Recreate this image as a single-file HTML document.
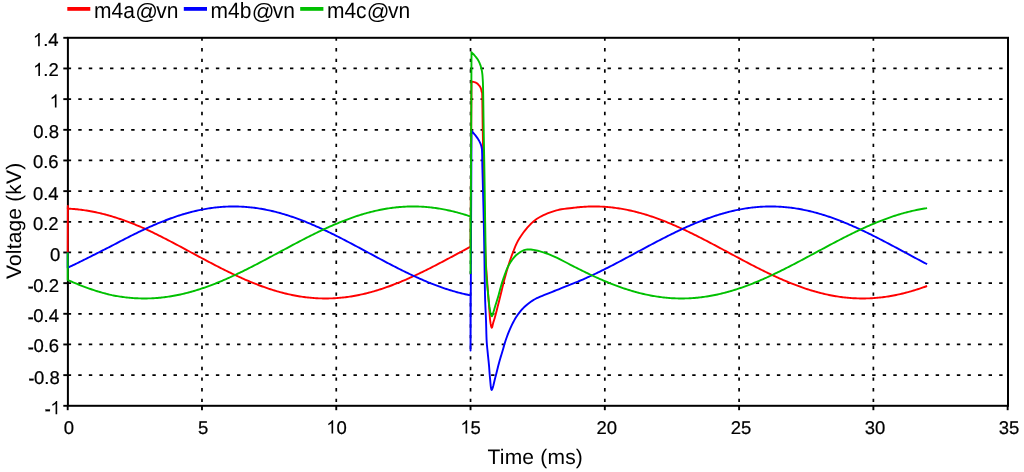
<!DOCTYPE html>
<html><head><meta charset="utf-8"><style>
html,body{margin:0;padding:0;background:#fff;}
svg{display:block;}
text{font-family:"Liberation Sans",sans-serif;fill:#000;text-rendering:geometricPrecision;}
svg{will-change:transform;}
.gv{stroke:#000;stroke-width:1.7;stroke-dasharray:3.4 7.227;}
.gh{stroke:#000;stroke-width:1.7;stroke-dasharray:3.4 7.185;}
.c{fill:none;stroke-width:1.9;stroke-linejoin:round;stroke-linecap:butt;}
</style></head><body>
<svg width="1024" height="472" viewBox="0 0 1024 472">
<rect x="0" y="0" width="1024" height="472" fill="#fff"/>
<g><line x1="201.98" y1="37.4" x2="201.98" y2="405.8" class="gv"/><line x1="336.26" y1="37.4" x2="336.26" y2="405.8" class="gv"/><line x1="470.54" y1="37.4" x2="470.54" y2="405.8" class="gv"/><line x1="604.82" y1="37.4" x2="604.82" y2="405.8" class="gv"/><line x1="739.10" y1="37.4" x2="739.10" y2="405.8" class="gv"/><line x1="873.38" y1="37.4" x2="873.38" y2="405.8" class="gv"/><line x1="67.7" y1="375.13" x2="1007.8" y2="375.13" class="gh"/><line x1="67.7" y1="344.47" x2="1007.8" y2="344.47" class="gh"/><line x1="67.7" y1="313.80" x2="1007.8" y2="313.80" class="gh"/><line x1="67.7" y1="283.14" x2="1007.8" y2="283.14" class="gh"/><line x1="67.7" y1="252.47" x2="1007.8" y2="252.47" class="gh"/><line x1="67.7" y1="221.80" x2="1007.8" y2="221.80" class="gh"/><line x1="67.7" y1="191.14" x2="1007.8" y2="191.14" class="gh"/><line x1="67.7" y1="160.47" x2="1007.8" y2="160.47" class="gh"/><line x1="67.7" y1="129.81" x2="1007.8" y2="129.81" class="gh"/><line x1="67.7" y1="99.14" x2="1007.8" y2="99.14" class="gh"/><line x1="67.7" y1="68.47" x2="1007.8" y2="68.47" class="gh"/></g>
<g stroke="#000" stroke-width="1.9"><line x1="67.70" y1="405.8" x2="67.70" y2="410.2" /><line x1="201.98" y1="405.8" x2="201.98" y2="410.2" /><line x1="336.26" y1="405.8" x2="336.26" y2="410.2" /><line x1="470.54" y1="405.8" x2="470.54" y2="410.2" /><line x1="604.82" y1="405.8" x2="604.82" y2="410.2" /><line x1="739.10" y1="405.8" x2="739.10" y2="410.2" /><line x1="873.38" y1="405.8" x2="873.38" y2="410.2" /><line x1="1007.66" y1="405.8" x2="1007.66" y2="410.2" /><line x1="63.3" y1="405.80" x2="67.7" y2="405.80" /><line x1="63.3" y1="375.13" x2="67.7" y2="375.13" /><line x1="63.3" y1="344.47" x2="67.7" y2="344.47" /><line x1="63.3" y1="313.80" x2="67.7" y2="313.80" /><line x1="63.3" y1="283.14" x2="67.7" y2="283.14" /><line x1="63.3" y1="252.47" x2="67.7" y2="252.47" /><line x1="63.3" y1="221.80" x2="67.7" y2="221.80" /><line x1="63.3" y1="191.14" x2="67.7" y2="191.14" /><line x1="63.3" y1="160.47" x2="67.7" y2="160.47" /><line x1="63.3" y1="129.81" x2="67.7" y2="129.81" /><line x1="63.3" y1="99.14" x2="67.7" y2="99.14" /><line x1="63.3" y1="68.47" x2="67.7" y2="68.47" /><line x1="63.3" y1="37.81" x2="67.7" y2="37.81" /></g>
<g font-size="18.5" fill="#000" stroke="#000" stroke-width="0.22"><rect x="45.55" y="409.45" width="4.40" height="1.75"/><path transform="translate(50.31 414.20) scale(0.00903 -0.00903)" d="M763 0L583 0L583 1147Q518 1085 412.5 1023Q307 961 223 930L223 1104Q374 1175 487 1276Q600 1377 647 1472L763 1472Z"/><rect x="29.22" y="378.78" width="4.40" height="1.75"/><text x="33.98" y="383.53">0</text><text x="44.27" y="383.53">.</text><text x="49.41" y="383.53">8</text><rect x="28.62" y="347.62" width="4.40" height="1.75"/><text x="33.38" y="352.37">0</text><text x="43.67" y="352.37">.</text><text x="48.81" y="352.37">6</text><rect x="28.52" y="317.45" width="4.40" height="1.75"/><text x="33.28" y="322.20">0</text><text x="43.57" y="322.20">.</text><text x="48.71" y="322.20">4</text><rect x="28.52" y="286.79" width="4.40" height="1.75"/><text x="33.28" y="291.54">0</text><text x="43.57" y="291.54">.</text><text x="48.71" y="291.54">2</text><text x="50.01" y="260.87">0</text><text x="32.88" y="230.20">0</text><text x="43.17" y="230.20">.</text><text x="48.31" y="230.20">2</text><text x="32.88" y="199.54">0</text><text x="43.17" y="199.54">.</text><text x="48.31" y="199.54">4</text><text x="32.88" y="167.67">0</text><text x="43.17" y="167.67">.</text><text x="48.31" y="167.67">6</text><text x="33.28" y="138.21">0</text><text x="43.57" y="138.21">.</text><text x="48.71" y="138.21">8</text><path transform="translate(49.61 107.54) scale(0.00903 -0.00903)" d="M763 0L583 0L583 1147Q518 1085 412.5 1023Q307 961 223 930L223 1104Q374 1175 487 1276Q600 1377 647 1472L763 1472Z"/><path transform="translate(33.08 76.07) scale(0.00903 -0.00903)" d="M763 0L583 0L583 1147Q518 1085 412.5 1023Q307 961 223 930L223 1104Q374 1175 487 1276Q600 1377 647 1472L763 1472Z"/><text x="43.37" y="76.07">.</text><text x="48.51" y="76.07">2</text><path transform="translate(32.88 46.21) scale(0.00903 -0.00903)" d="M763 0L583 0L583 1147Q518 1085 412.5 1023Q307 961 223 930L223 1104Q374 1175 487 1276Q600 1377 647 1472L763 1472Z"/><text x="43.17" y="46.21">.</text><text x="48.31" y="46.21">4</text><text x="63.76" y="433.60">0</text><text x="197.92" y="433.60">5</text><path transform="translate(326.27 433.60) scale(0.00903 -0.00903)" d="M763 0L583 0L583 1147Q518 1085 412.5 1023Q307 961 223 930L223 1104Q374 1175 487 1276Q600 1377 647 1472L763 1472Z"/><text x="336.55" y="433.60">0</text><path transform="translate(460.31 433.60) scale(0.00903 -0.00903)" d="M763 0L583 0L583 1147Q518 1085 412.5 1023Q307 961 223 930L223 1104Q374 1175 487 1276Q600 1377 647 1472L763 1472Z"/><text x="470.59" y="433.60">5</text><text x="596.50" y="433.60">2</text><text x="606.79" y="433.60">0</text><text x="730.69" y="433.60">2</text><text x="740.98" y="433.60">5</text><text x="864.63" y="433.60">3</text><text x="874.92" y="433.60">0</text><text x="998.77" y="433.60">3</text><text x="1009.06" y="433.60">5</text></g>
<rect x="67.9" y="37.8" width="940.1" height="368" fill="none" stroke="#000" stroke-width="2"/>
<path class="c" stroke="#ff0000" d="M67.70 252.47 L67.85 205.90 L67.70 208.63 L69.04 208.69 L70.39 208.77 L71.73 208.85 L73.07 208.95 L74.41 209.06 L75.76 209.18 L77.10 209.31 L78.44 209.45 L79.79 209.61 L81.13 209.77 L82.47 209.95 L83.81 210.13 L85.16 210.33 L86.50 210.54 L87.84 210.75 L89.18 210.98 L90.53 211.22 L91.87 211.47 L93.21 211.73 L94.56 212.00 L95.90 212.28 L97.24 212.57 L98.58 212.87 L99.93 213.19 L101.27 213.51 L102.61 213.84 L103.96 214.18 L105.30 214.53 L106.64 214.89 L107.98 215.26 L109.33 215.64 L110.67 216.02 L112.01 216.42 L113.36 216.83 L114.70 217.24 L116.04 217.67 L117.38 218.10 L118.73 218.54 L120.07 218.99 L121.41 219.45 L122.75 219.92 L124.10 220.39 L125.44 220.88 L126.78 221.37 L128.13 221.86 L129.47 222.37 L130.81 222.88 L132.15 223.41 L133.50 223.93 L134.84 224.47 L136.18 225.01 L137.53 225.56 L138.87 226.12 L140.21 226.68 L141.55 227.25 L142.90 227.82 L144.24 228.44 L145.58 229.05 L146.93 229.68 L148.27 230.31 L149.61 230.95 L150.95 231.59 L152.30 232.23 L153.64 232.88 L154.98 233.54 L156.32 234.20 L157.67 234.87 L159.01 235.54 L160.35 236.21 L161.70 236.89 L163.04 237.57 L164.38 238.26 L165.72 238.94 L167.07 239.64 L168.41 240.33 L169.75 241.03 L171.10 241.73 L172.44 242.44 L173.78 243.14 L175.12 243.85 L176.47 244.56 L177.81 245.27 L179.15 245.99 L180.50 246.70 L181.84 247.42 L183.18 248.14 L184.52 248.86 L185.87 249.58 L187.21 250.30 L188.55 251.03 L189.89 251.75 L191.24 252.47 L192.58 253.19 L193.92 253.91 L195.27 254.64 L196.61 255.36 L197.95 256.08 L199.29 256.80 L200.64 257.52 L201.98 258.24 L203.32 258.95 L204.67 259.67 L206.01 260.38 L207.35 261.09 L208.69 261.80 L210.04 262.50 L211.38 263.21 L212.72 263.91 L214.07 264.61 L215.41 265.30 L216.75 266.00 L218.09 266.68 L219.44 267.37 L220.78 268.05 L222.12 268.73 L223.46 269.40 L224.81 270.07 L226.15 270.74 L227.49 271.40 L228.84 272.06 L230.18 272.71 L231.52 273.35 L232.86 273.99 L234.21 274.63 L235.55 275.26 L236.89 275.89 L238.24 276.50 L239.58 277.12 L240.92 277.72 L242.26 278.33 L243.61 278.92 L244.95 279.51 L246.29 280.09 L247.64 280.66 L248.98 281.23 L250.32 281.79 L251.66 282.34 L253.01 282.89 L254.35 283.43 L255.69 283.96 L257.03 284.48 L258.38 285.00 L259.72 285.50 L261.06 286.00 L262.41 286.49 L263.75 286.97 L265.09 287.45 L266.43 287.91 L267.78 288.37 L269.12 288.82 L270.46 289.25 L271.81 289.68 L273.15 290.10 L274.49 290.51 L275.83 290.92 L277.18 291.31 L278.52 291.69 L279.86 292.06 L281.21 292.43 L282.55 292.78 L283.89 293.12 L285.23 293.46 L286.58 293.78 L287.92 294.09 L289.26 294.39 L290.60 294.69 L291.95 294.97 L293.29 295.24 L294.63 295.50 L295.98 295.75 L297.32 295.99 L298.66 296.22 L300.00 296.44 L301.35 296.64 L302.69 296.84 L304.03 297.02 L305.38 297.20 L306.72 297.36 L308.06 297.51 L309.40 297.65 L310.75 297.78 L312.09 297.90 L313.43 298.01 L314.78 298.11 L316.12 298.19 L317.46 298.26 L318.80 298.33 L320.15 298.38 L321.49 298.42 L322.83 298.45 L324.17 298.46 L325.52 298.47 L326.86 298.46 L328.20 298.45 L329.55 298.42 L330.89 298.38 L332.23 298.33 L333.57 298.26 L334.92 298.19 L336.26 298.11 L337.60 298.01 L338.95 297.90 L340.29 297.78 L341.63 297.65 L342.97 297.51 L344.32 297.36 L345.66 297.20 L347.00 297.02 L348.35 296.84 L349.69 296.64 L351.03 296.44 L352.37 296.22 L353.72 295.99 L355.06 295.75 L356.40 295.50 L357.74 295.24 L359.09 294.97 L360.43 294.69 L361.77 294.39 L363.12 294.09 L364.46 293.78 L365.80 293.46 L367.14 293.12 L368.49 292.78 L369.83 292.43 L371.17 292.06 L372.52 291.69 L373.86 291.31 L375.20 290.92 L376.54 290.51 L377.89 290.10 L379.23 289.68 L380.57 289.25 L381.92 288.82 L383.26 288.37 L384.60 287.91 L385.94 287.45 L387.29 286.97 L388.63 286.49 L389.97 286.00 L391.31 285.50 L392.66 285.00 L394.00 284.48 L395.34 283.96 L396.69 283.43 L398.03 282.89 L399.37 282.34 L400.71 281.79 L402.06 281.23 L403.40 280.66 L404.74 280.09 L406.09 279.51 L407.43 278.92 L408.77 278.33 L410.11 277.72 L411.46 277.12 L412.80 276.50 L414.14 275.89 L415.49 275.26 L416.83 274.63 L418.17 273.99 L419.51 273.35 L420.86 272.71 L422.20 272.06 L423.54 271.40 L424.88 270.74 L426.23 270.07 L427.57 269.40 L428.91 268.73 L430.26 268.05 L431.60 267.37 L432.94 266.68 L434.28 266.00 L435.63 265.30 L436.97 264.61 L438.31 263.91 L439.66 263.21 L441.00 262.50 L442.34 261.80 L443.68 261.09 L445.03 260.38 L446.37 259.67 L447.71 258.95 L449.06 258.24 L450.40 257.52 L451.74 256.80 L453.08 256.08 L454.43 255.36 L455.77 254.64 L457.11 253.91 L458.45 253.19 L459.80 252.47 L461.14 251.75 L462.48 251.03 L463.83 250.30 L465.17 249.58 L466.51 248.86 L467.85 248.14 L469.20 247.42 L470.54 246.70 L470.54 246.84 L471.50 81.60 L471.98 81.69 L472.66 81.80 L473.45 81.93 L474.29 82.10 L475.10 82.32 L475.80 82.60 L476.41 82.95 L477.00 83.36 L477.55 83.81 L478.07 84.30 L478.55 84.80 L479.00 85.30 L479.41 85.80 L479.77 86.33 L480.11 86.87 L480.40 87.41 L480.67 87.96 L480.90 88.50 L481.09 89.03 L481.23 89.56 L481.33 90.09 L481.42 90.63 L481.50 91.16 L481.60 91.70 L481.71 91.97 L481.81 91.91 L481.92 91.86 L482.02 92.14 L482.11 93.08 L482.20 95.00 L482.28 98.44 L482.36 103.24 L482.44 108.71 L482.50 114.12 L482.56 118.79 L482.60 122.00 L482.71 128.17 L482.87 136.59 L483.05 146.62 L483.26 157.63 L483.48 168.97 L483.70 180.00 L483.94 191.43 L484.19 203.91 L484.46 216.73 L484.73 229.16 L485.02 240.49 L485.30 250.00 L485.59 257.39 L485.88 263.19 L486.18 267.89 L486.48 271.97 L486.79 275.95 L487.10 280.30 L487.43 285.04 L487.79 289.79 L488.14 294.41 L488.49 298.81 L488.82 302.88 L489.10 306.50 L489.33 309.63 L489.52 312.36 L489.68 314.74 L489.84 316.87 L490.00 318.80 L490.20 320.60 L490.43 322.33 L490.67 323.94 L490.92 325.36 L491.18 326.50 L491.44 327.31 L491.70 327.70 L491.96 327.55 L492.22 326.90 L492.48 325.91 L492.75 324.74 L493.02 323.55 L493.30 322.50 L493.57 321.63 L493.84 320.81 L494.11 319.98 L494.40 319.05 L494.72 317.95 L495.10 316.60 L495.54 314.94 L496.04 313.03 L496.58 310.94 L497.13 308.76 L497.67 306.59 L498.20 304.50 L498.71 302.48 L499.21 300.47 L499.71 298.45 L500.20 296.43 L500.70 294.42 L501.20 292.40 L501.69 290.41 L502.16 288.44 L502.64 286.47 L503.13 284.48 L503.64 282.43 L504.20 280.30 L504.81 278.05 L505.45 275.69 L506.12 273.28 L506.81 270.86 L507.50 268.49 L508.20 266.20 L508.89 264.02 L509.57 261.90 L510.26 259.82 L510.97 257.76 L511.71 255.69 L512.50 253.60 L513.32 251.47 L514.15 249.31 L515.01 247.14 L515.93 244.99 L516.92 242.87 L518.00 240.80 L519.19 238.75 L520.48 236.71 L521.84 234.71 L523.24 232.75 L524.67 230.88 L526.10 229.10 L527.52 227.42 L528.95 225.81 L530.41 224.29 L531.89 222.84 L533.42 221.48 L535.00 220.20 L536.61 219.03 L538.24 217.96 L539.92 216.97 L541.66 216.05 L543.48 215.17 L545.40 214.30 L547.44 213.44 L549.59 212.60 L551.82 211.81 L554.11 211.06 L556.45 210.39 L558.80 209.80 L561.37 209.30 L564.20 208.87 L567.07 208.51 L569.76 208.21 L572.03 207.97 L573.67 207.78 L575.01 207.61 L576.35 207.46 L577.70 207.31 L579.04 207.18 L580.39 207.06 L581.73 206.95 L583.07 206.85 L584.42 206.76 L585.76 206.69 L587.11 206.62 L588.45 206.57 L589.79 206.53 L591.14 206.50 L592.48 206.48 L593.82 206.47 L595.17 206.47 L596.51 206.49 L597.86 206.52 L599.20 206.55 L600.54 206.60 L601.89 206.66 L603.23 206.73 L604.57 206.82 L605.92 206.91 L607.26 207.02 L608.61 207.13 L609.95 207.26 L611.29 207.40 L612.64 207.55 L613.98 207.71 L615.33 207.88 L616.67 208.07 L618.01 208.26 L619.36 208.47 L620.70 208.68 L622.04 208.91 L623.39 209.15 L624.73 209.40 L626.08 209.66 L627.42 209.93 L628.76 210.21 L630.11 210.50 L631.45 210.80 L632.80 211.11 L634.14 211.43 L635.48 211.76 L636.83 212.10 L638.17 212.46 L639.51 212.82 L640.86 213.19 L642.20 213.57 L643.55 213.96 L644.89 214.36 L646.23 214.77 L647.58 215.19 L648.92 215.62 L650.26 216.05 L651.61 216.50 L652.95 216.96 L654.30 217.42 L655.64 217.89 L656.98 218.37 L658.33 218.86 L659.67 219.36 L661.02 219.87 L662.36 220.38 L663.70 220.90 L665.05 221.43 L666.39 221.97 L667.73 222.52 L669.08 223.07 L670.42 223.63 L671.77 224.19 L673.11 224.77 L674.45 225.35 L675.80 225.94 L677.14 226.53 L678.49 227.13 L679.83 227.74 L681.17 228.35 L682.52 228.97 L683.86 229.59 L685.20 230.22 L686.55 230.86 L687.89 231.50 L689.24 232.15 L690.58 232.80 L691.92 233.45 L693.27 234.11 L694.61 234.78 L695.95 235.45 L697.30 236.12 L698.64 236.80 L699.99 237.48 L701.33 238.17 L702.67 238.86 L704.02 239.55 L705.36 240.24 L706.71 240.94 L708.05 241.64 L709.39 242.35 L710.74 243.06 L712.08 243.76 L713.42 244.48 L714.77 245.19 L716.11 245.90 L717.46 246.62 L718.80 247.34 L720.14 248.06 L721.49 248.78 L722.83 249.50 L724.18 250.22 L725.52 250.94 L726.86 251.67 L728.21 252.39 L729.55 253.11 L730.89 253.83 L732.24 254.56 L733.58 255.28 L734.93 256.00 L736.27 256.72 L737.61 257.44 L738.96 258.16 L740.30 258.88 L741.64 259.59 L742.99 260.30 L744.33 261.02 L745.68 261.73 L747.02 262.43 L748.36 263.14 L749.71 263.84 L751.05 264.54 L752.40 265.23 L753.74 265.93 L755.08 266.62 L756.43 267.30 L757.77 267.99 L759.11 268.67 L760.46 269.34 L761.80 270.01 L763.15 270.68 L764.49 271.34 L765.83 272.00 L767.18 272.65 L768.52 273.30 L769.86 273.94 L771.21 274.57 L772.55 275.21 L773.90 275.83 L775.24 276.45 L776.58 277.07 L777.93 277.67 L779.27 278.28 L780.62 278.87 L781.96 279.46 L783.30 280.04 L784.65 280.62 L785.99 281.19 L787.33 281.75 L788.68 282.30 L790.02 282.85 L791.37 283.39 L792.71 283.92 L794.05 284.44 L795.40 284.96 L796.74 285.47 L798.09 285.97 L799.43 286.46 L800.77 286.94 L802.12 287.41 L803.46 287.88 L804.80 288.34 L806.15 288.79 L807.49 289.23 L808.84 289.66 L810.18 290.08 L811.52 290.49 L812.87 290.89 L814.21 291.28 L815.55 291.67 L816.90 292.04 L818.24 292.40 L819.59 292.76 L820.93 293.10 L822.27 293.44 L823.62 293.76 L824.96 294.07 L826.31 294.38 L827.65 294.67 L828.99 294.95 L830.34 295.22 L831.68 295.49 L833.02 295.74 L834.37 295.98 L835.71 296.21 L837.06 296.42 L838.40 296.63 L839.74 296.83 L841.09 297.02 L842.43 297.19 L843.78 297.35 L845.12 297.51 L846.46 297.65 L847.81 297.78 L849.15 297.90 L850.49 298.01 L851.84 298.10 L853.18 298.19 L854.53 298.26 L855.87 298.32 L857.21 298.38 L858.56 298.42 L859.90 298.45 L861.24 298.46 L862.59 298.47 L863.93 298.46 L865.28 298.45 L866.62 298.42 L867.96 298.38 L869.31 298.33 L870.65 298.27 L872.00 298.19 L873.34 298.11 L874.68 298.01 L876.03 297.91 L877.37 297.79 L878.71 297.66 L880.06 297.52 L881.40 297.37 L882.75 297.20 L884.09 297.03 L885.43 296.84 L886.78 296.65 L888.12 296.44 L889.47 296.22 L890.81 295.99 L892.15 295.75 L893.50 295.50 L894.84 295.24 L896.18 294.97 L897.53 294.69 L898.87 294.40 L900.22 294.10 L901.56 293.78 L902.90 293.46 L904.25 293.13 L905.59 292.78 L906.93 292.43 L908.28 292.07 L909.62 291.69 L910.97 291.31 L912.31 290.92 L913.65 290.52 L915.00 290.11 L916.34 289.69 L917.69 289.26 L919.03 288.82 L920.37 288.37 L921.72 287.91 L923.06 287.45 L924.40 286.98 L925.75 286.49 L927.09 286.00"/>
<path class="c" stroke="#0000ff" d="M67.70 252.47 L67.70 267.75 L69.04 267.12 L70.39 266.48 L71.73 265.84 L73.07 265.20 L74.41 264.55 L75.76 263.90 L77.10 263.24 L78.44 262.58 L79.79 261.92 L81.13 261.26 L82.47 260.59 L83.81 259.93 L85.16 259.26 L86.50 258.59 L87.84 257.91 L89.18 257.24 L90.53 256.56 L91.87 255.88 L93.21 255.21 L94.56 254.53 L95.90 253.85 L97.24 253.17 L98.58 252.49 L99.93 251.80 L101.27 251.12 L102.61 250.44 L103.96 249.76 L105.30 249.08 L106.64 248.41 L107.98 247.73 L109.33 247.05 L110.67 246.38 L112.01 245.70 L113.36 244.99 L114.70 244.28 L116.04 243.57 L117.38 242.86 L118.73 242.15 L120.07 241.45 L121.41 240.75 L122.75 240.05 L124.10 239.36 L125.44 238.67 L126.78 237.98 L128.13 237.30 L129.47 236.62 L130.81 235.94 L132.15 235.27 L133.50 234.60 L134.84 233.94 L136.18 233.28 L137.53 232.62 L138.87 231.97 L140.21 231.33 L141.55 230.69 L142.90 230.06 L144.24 229.43 L145.58 228.81 L146.93 228.19 L148.27 227.58 L149.61 226.97 L150.95 226.38 L152.30 225.78 L153.64 225.20 L154.98 224.62 L156.32 224.05 L157.67 223.48 L159.01 222.93 L160.35 222.38 L161.70 221.83 L163.04 221.30 L164.38 220.77 L165.72 220.25 L167.07 219.74 L168.41 219.24 L169.75 218.74 L171.10 218.25 L172.44 217.78 L173.78 217.31 L175.12 216.84 L176.47 216.39 L177.81 215.95 L179.15 215.51 L180.50 215.09 L181.84 214.67 L183.18 214.26 L184.52 213.87 L185.87 213.48 L187.21 213.10 L188.55 212.73 L189.89 212.37 L191.24 212.02 L192.58 211.68 L193.92 211.35 L195.27 211.04 L196.61 210.73 L197.95 210.43 L199.29 210.14 L200.64 209.86 L201.98 209.60 L203.32 209.34 L204.67 209.09 L206.01 208.86 L207.35 208.63 L208.69 208.42 L210.04 208.22 L211.38 208.03 L212.72 207.85 L214.07 207.68 L215.41 207.52 L216.75 207.37 L218.09 207.23 L219.44 207.11 L220.78 206.99 L222.12 206.89 L223.46 206.80 L224.81 206.72 L226.15 206.65 L227.49 206.59 L228.84 206.54 L230.18 206.51 L231.52 206.49 L232.86 206.47 L234.21 206.47 L235.55 206.48 L236.89 206.50 L238.24 206.54 L239.58 206.58 L240.92 206.64 L242.26 206.70 L243.61 206.78 L244.95 206.87 L246.29 206.97 L247.64 207.08 L248.98 207.21 L250.32 207.34 L251.66 207.49 L253.01 207.64 L254.35 207.81 L255.69 207.99 L257.03 208.18 L258.38 208.38 L259.72 208.59 L261.06 208.81 L262.41 209.05 L263.75 209.29 L265.09 209.54 L266.43 209.81 L267.78 210.08 L269.12 210.37 L270.46 210.67 L271.81 210.97 L273.15 211.29 L274.49 211.62 L275.83 211.95 L277.18 212.30 L278.52 212.66 L279.86 213.02 L281.21 213.40 L282.55 213.79 L283.89 214.18 L285.23 214.59 L286.58 215.00 L287.92 215.43 L289.26 215.86 L290.60 216.30 L291.95 216.75 L293.29 217.21 L294.63 217.68 L295.98 218.16 L297.32 218.64 L298.66 219.14 L300.00 219.64 L301.35 220.15 L302.69 220.67 L304.03 221.19 L305.38 221.73 L306.72 222.27 L308.06 222.82 L309.40 223.37 L310.75 223.94 L312.09 224.51 L313.43 225.08 L314.78 225.67 L316.12 226.26 L317.46 226.85 L318.80 227.46 L320.15 228.07 L321.49 228.68 L322.83 229.30 L324.17 229.93 L325.52 230.56 L326.86 231.20 L328.20 231.84 L329.55 232.49 L330.89 233.15 L332.23 233.80 L333.57 234.47 L334.92 235.13 L336.26 235.81 L337.60 236.48 L338.95 237.16 L340.29 237.84 L341.63 238.53 L342.97 239.22 L344.32 239.91 L345.66 240.61 L347.00 241.31 L348.35 242.01 L349.69 242.72 L351.03 243.43 L352.37 244.13 L353.72 244.85 L355.06 245.56 L356.40 246.27 L357.74 246.99 L359.09 247.71 L360.43 248.43 L361.77 249.15 L363.12 249.87 L364.46 250.59 L365.80 251.31 L367.14 252.04 L368.49 252.76 L369.83 253.48 L371.17 254.20 L372.52 254.93 L373.86 255.65 L375.20 256.37 L376.54 257.09 L377.89 257.80 L379.23 258.52 L380.57 259.24 L381.92 259.95 L383.26 260.66 L384.60 261.37 L385.94 262.08 L387.29 262.79 L388.63 263.49 L389.97 264.19 L391.31 264.89 L392.66 265.58 L394.00 266.27 L395.34 266.96 L396.69 267.64 L398.03 268.32 L399.37 269.00 L400.71 269.67 L402.06 270.34 L403.40 271.00 L404.74 271.66 L406.09 272.32 L407.43 272.97 L408.77 273.61 L410.11 274.25 L411.46 274.88 L412.80 275.51 L414.14 276.13 L415.49 276.75 L416.83 277.36 L418.17 277.97 L419.51 278.56 L420.86 279.16 L422.20 279.74 L423.54 280.32 L424.88 280.89 L426.23 281.46 L427.57 282.01 L428.91 282.56 L430.26 283.11 L431.60 283.64 L432.94 284.17 L434.28 284.69 L435.63 285.20 L436.97 285.70 L438.31 286.20 L439.66 286.69 L441.00 287.16 L442.34 287.63 L443.68 288.10 L445.03 288.55 L446.37 288.99 L447.71 289.43 L449.06 289.85 L450.40 290.27 L451.74 290.68 L453.08 291.07 L454.43 291.46 L455.77 291.84 L457.11 292.21 L458.45 292.57 L459.80 292.92 L461.14 293.26 L462.48 293.59 L463.83 293.90 L465.17 294.21 L466.51 294.51 L467.85 294.80 L469.20 295.08 L470.54 295.34 L470.54 350.60 L471.50 130.80 L471.85 131.20 L472.33 131.74 L472.90 132.38 L473.51 133.09 L474.13 133.81 L474.70 134.50 L475.24 135.18 L475.80 135.89 L476.36 136.62 L476.90 137.35 L477.42 138.08 L477.90 138.80 L478.35 139.50 L478.77 140.20 L479.16 140.90 L479.53 141.60 L479.88 142.30 L480.20 143.00 L480.50 143.70 L480.77 144.39 L481.01 145.08 L481.23 145.79 L481.43 146.52 L481.60 147.30 L481.74 148.04 L481.84 148.72 L481.93 149.43 L481.99 150.25 L482.04 151.28 L482.10 152.60 L482.15 154.44 L482.20 156.76 L482.23 159.28 L482.26 161.73 L482.28 163.83 L482.30 165.30 L482.44 170.22 L482.63 177.06 L482.85 185.15 L483.09 193.79 L483.31 202.30 L483.50 210.00 L483.66 216.88 L483.80 223.50 L483.93 229.98 L484.06 236.47 L484.18 243.10 L484.30 250.00 L484.42 257.44 L484.53 265.37 L484.64 273.44 L484.75 281.30 L484.87 288.60 L485.00 295.00 L485.15 300.38 L485.33 305.00 L485.51 309.06 L485.69 312.78 L485.85 316.35 L486.00 320.00 L486.12 323.71 L486.21 327.31 L486.29 330.77 L486.38 334.06 L486.48 337.15 L486.60 340.00 L486.75 342.54 L486.92 344.77 L487.11 346.81 L487.30 348.74 L487.50 350.67 L487.70 352.70 L487.91 354.82 L488.13 356.93 L488.36 359.05 L488.58 361.17 L488.80 363.28 L489.00 365.40 L489.18 367.53 L489.33 369.67 L489.48 371.81 L489.63 373.93 L489.80 376.04 L490.00 378.10 L490.22 380.40 L490.44 382.99 L490.69 385.56 L490.97 387.79 L491.30 389.34 L491.70 389.90 L492.19 389.27 L492.76 387.67 L493.37 385.41 L494.02 382.77 L494.67 380.07 L495.30 377.60 L495.91 375.26 L496.53 372.79 L497.15 370.24 L497.77 367.70 L498.39 365.23 L499.00 362.90 L499.60 360.72 L500.20 358.65 L500.80 356.64 L501.40 354.67 L502.00 352.70 L502.60 350.70 L503.20 348.67 L503.78 346.63 L504.37 344.60 L504.97 342.57 L505.61 340.53 L506.30 338.50 L507.03 336.45 L507.80 334.39 L508.60 332.32 L509.43 330.27 L510.30 328.26 L511.20 326.30 L512.13 324.38 L513.10 322.49 L514.10 320.62 L515.13 318.81 L516.20 317.07 L517.30 315.40 L518.42 313.82 L519.56 312.31 L520.72 310.88 L521.94 309.49 L523.23 308.13 L524.60 306.80 L526.05 305.49 L527.56 304.20 L529.14 302.95 L530.79 301.74 L532.51 300.59 L534.30 299.50 L536.19 298.48 L538.18 297.54 L540.24 296.64 L542.34 295.79 L544.44 294.94 L546.50 294.10 L548.48 293.29 L550.40 292.52 L552.33 291.78 L554.31 291.01 L556.41 290.20 L558.70 289.30 L561.40 288.22 L564.52 286.98 L567.75 285.69 L570.82 284.46 L573.42 283.41 L575.28 282.67 L576.62 282.12 L577.96 281.57 L579.31 281.00 L580.65 280.43 L581.99 279.86 L583.34 279.27 L584.68 278.68 L586.02 278.09 L587.36 277.48 L588.71 276.87 L590.05 276.26 L591.39 275.64 L592.73 275.01 L594.08 274.38 L595.42 273.74 L596.76 273.10 L598.11 272.45 L599.45 271.79 L600.79 271.14 L602.13 270.47 L603.48 269.81 L604.82 269.13 L606.16 268.46 L607.51 267.78 L608.85 267.10 L610.19 266.41 L611.53 265.72 L612.88 265.03 L614.22 264.33 L615.56 263.63 L616.91 262.93 L618.25 262.22 L619.59 261.51 L620.93 260.81 L622.28 260.09 L623.62 259.38 L624.96 258.67 L626.30 257.95 L627.65 257.23 L628.99 256.51 L630.33 255.79 L631.68 255.07 L633.02 254.35 L634.36 253.63 L635.70 252.90 L637.05 252.18 L638.39 251.46 L639.73 250.74 L641.08 250.01 L642.42 249.29 L643.76 248.57 L645.10 247.85 L646.45 247.14 L647.79 246.42 L649.13 245.70 L650.48 244.99 L651.82 244.28 L653.16 243.57 L654.50 242.86 L655.85 242.15 L657.19 241.45 L658.53 240.75 L659.87 240.05 L661.22 239.36 L662.56 238.67 L663.90 237.98 L665.25 237.30 L666.59 236.62 L667.93 235.94 L669.27 235.27 L670.62 234.60 L671.96 233.94 L673.30 233.28 L674.65 232.62 L675.99 231.97 L677.33 231.33 L678.67 230.69 L680.02 230.06 L681.36 229.43 L682.70 228.81 L684.05 228.19 L685.39 227.58 L686.73 226.97 L688.07 226.38 L689.42 225.78 L690.76 225.20 L692.10 224.62 L693.44 224.05 L694.79 223.48 L696.13 222.93 L697.47 222.38 L698.82 221.83 L700.16 221.30 L701.50 220.77 L702.84 220.25 L704.19 219.74 L705.53 219.24 L706.87 218.74 L708.22 218.25 L709.56 217.78 L710.90 217.31 L712.24 216.84 L713.59 216.39 L714.93 215.95 L716.27 215.51 L717.62 215.09 L718.96 214.67 L720.30 214.26 L721.64 213.87 L722.99 213.48 L724.33 213.10 L725.67 212.73 L727.01 212.37 L728.36 212.02 L729.70 211.68 L731.04 211.35 L732.39 211.04 L733.73 210.73 L735.07 210.43 L736.41 210.14 L737.76 209.86 L739.10 209.60 L740.44 209.34 L741.79 209.09 L743.13 208.86 L744.47 208.63 L745.81 208.42 L747.16 208.22 L748.50 208.03 L749.84 207.85 L751.19 207.68 L752.53 207.52 L753.87 207.37 L755.21 207.23 L756.56 207.11 L757.90 206.99 L759.24 206.89 L760.58 206.80 L761.93 206.72 L763.27 206.65 L764.61 206.59 L765.96 206.54 L767.30 206.51 L768.64 206.49 L769.98 206.47 L771.33 206.47 L772.67 206.48 L774.01 206.50 L775.36 206.54 L776.70 206.58 L778.04 206.64 L779.38 206.70 L780.73 206.78 L782.07 206.87 L783.41 206.97 L784.76 207.08 L786.10 207.21 L787.44 207.34 L788.78 207.49 L790.13 207.64 L791.47 207.81 L792.81 207.99 L794.15 208.18 L795.50 208.38 L796.84 208.59 L798.18 208.81 L799.53 209.05 L800.87 209.29 L802.21 209.54 L803.55 209.81 L804.90 210.08 L806.24 210.37 L807.58 210.67 L808.93 210.97 L810.27 211.29 L811.61 211.62 L812.95 211.95 L814.30 212.30 L815.64 212.66 L816.98 213.02 L818.33 213.40 L819.67 213.79 L821.01 214.18 L822.35 214.59 L823.70 215.00 L825.04 215.43 L826.38 215.86 L827.72 216.30 L829.07 216.75 L830.41 217.21 L831.75 217.68 L833.10 218.16 L834.44 218.64 L835.78 219.14 L837.12 219.64 L838.47 220.15 L839.81 220.67 L841.15 221.19 L842.50 221.73 L843.84 222.27 L845.18 222.82 L846.52 223.37 L847.87 223.94 L849.21 224.51 L850.55 225.08 L851.90 225.67 L853.24 226.26 L854.58 226.85 L855.92 227.46 L857.27 228.07 L858.61 228.68 L859.95 229.30 L861.29 229.93 L862.64 230.56 L863.98 231.20 L865.32 231.84 L866.67 232.49 L868.01 233.15 L869.35 233.80 L870.69 234.47 L872.04 235.13 L873.38 235.81 L874.72 236.48 L876.07 237.16 L877.41 237.84 L878.75 238.53 L880.09 239.22 L881.44 239.91 L882.78 240.61 L884.12 241.31 L885.47 242.01 L886.81 242.72 L888.15 243.43 L889.49 244.13 L890.84 244.85 L892.18 245.56 L893.52 246.27 L894.86 246.99 L896.21 247.71 L897.55 248.43 L898.89 249.15 L900.24 249.87 L901.58 250.59 L902.92 251.31 L904.26 252.04 L905.61 252.76 L906.95 253.48 L908.29 254.20 L909.64 254.93 L910.98 255.65 L912.32 256.37 L913.66 257.09 L915.01 257.80 L916.35 258.52 L917.69 259.24 L919.04 259.95 L920.38 260.66 L921.72 261.37 L923.06 262.08 L924.41 262.79 L925.75 263.49 L927.09 264.19"/>
<path class="c" stroke="#00c000" d="M67.70 252.47 L67.70 279.92 L69.04 280.52 L70.39 281.11 L71.73 281.69 L73.07 282.27 L74.41 282.84 L75.76 283.40 L77.10 283.95 L78.44 284.50 L79.79 285.03 L81.13 285.56 L82.47 286.08 L83.81 286.59 L85.16 287.10 L86.50 287.59 L87.84 288.08 L89.18 288.55 L90.53 289.02 L91.87 289.48 L93.21 289.93 L94.56 290.37 L95.90 290.80 L97.24 291.22 L98.58 291.63 L99.93 292.03 L101.27 292.42 L102.61 292.80 L103.96 293.17 L105.30 293.53 L106.64 293.88 L107.98 294.23 L109.33 294.56 L110.67 294.88 L112.01 295.19 L113.36 295.45 L114.70 295.70 L116.04 295.94 L117.38 296.17 L118.73 296.39 L120.07 296.60 L121.41 296.80 L122.75 296.99 L124.10 297.16 L125.44 297.33 L126.78 297.48 L128.13 297.63 L129.47 297.76 L130.81 297.88 L132.15 297.99 L133.50 298.09 L134.84 298.18 L136.18 298.25 L137.53 298.32 L138.87 298.37 L140.21 298.41 L141.55 298.44 L142.90 298.46 L144.24 298.47 L145.58 298.47 L146.93 298.45 L148.27 298.42 L149.61 298.39 L150.95 298.34 L152.30 298.28 L153.64 298.21 L154.98 298.12 L156.32 298.03 L157.67 297.93 L159.01 297.81 L160.35 297.68 L161.70 297.54 L163.04 297.39 L164.38 297.23 L165.72 297.06 L167.07 296.88 L168.41 296.68 L169.75 296.48 L171.10 296.26 L172.44 296.04 L173.78 295.80 L175.12 295.55 L176.47 295.29 L177.81 295.02 L179.15 294.74 L180.50 294.45 L181.84 294.15 L183.18 293.84 L184.52 293.52 L185.87 293.19 L187.21 292.85 L188.55 292.50 L189.89 292.14 L191.24 291.77 L192.58 291.39 L193.92 291.00 L195.27 290.60 L196.61 290.19 L197.95 289.77 L199.29 289.34 L200.64 288.90 L201.98 288.46 L203.32 288.00 L204.67 287.54 L206.01 287.07 L207.35 286.59 L208.69 286.10 L210.04 285.60 L211.38 285.10 L212.72 284.58 L214.07 284.06 L215.41 283.53 L216.75 283.00 L218.09 282.45 L219.44 281.90 L220.78 281.34 L222.12 280.78 L223.46 280.20 L224.81 279.62 L226.15 279.04 L227.49 278.44 L228.84 277.85 L230.18 277.24 L231.52 276.63 L232.86 276.01 L234.21 275.39 L235.55 274.76 L236.89 274.12 L238.24 273.48 L239.58 272.84 L240.92 272.19 L242.26 271.53 L243.61 270.87 L244.95 270.21 L246.29 269.54 L247.64 268.86 L248.98 268.19 L250.32 267.51 L251.66 266.82 L253.01 266.13 L254.35 265.44 L255.69 264.75 L257.03 264.05 L258.38 263.35 L259.72 262.65 L261.06 261.94 L262.41 261.23 L263.75 260.52 L265.09 259.81 L266.43 259.09 L267.78 258.38 L269.12 257.66 L270.46 256.94 L271.81 256.22 L273.15 255.50 L274.49 254.78 L275.83 254.06 L277.18 253.34 L278.52 252.61 L279.86 251.89 L281.21 251.17 L282.55 250.45 L283.89 249.73 L285.23 249.01 L286.58 248.29 L287.92 247.57 L289.26 246.85 L290.60 246.13 L291.95 245.42 L293.29 244.70 L294.63 243.99 L295.98 243.28 L297.32 242.58 L298.66 241.87 L300.00 241.17 L301.35 240.47 L302.69 239.78 L304.03 239.08 L305.38 238.39 L306.72 237.71 L308.06 237.02 L309.40 236.35 L310.75 235.67 L312.09 235.00 L313.43 234.33 L314.78 233.67 L316.12 233.02 L317.46 232.36 L318.80 231.72 L320.15 231.07 L321.49 230.44 L322.83 229.81 L324.17 229.18 L325.52 228.56 L326.86 227.94 L328.20 227.34 L329.55 226.73 L330.89 226.14 L332.23 225.55 L333.57 224.97 L334.92 224.39 L336.26 223.82 L337.60 223.26 L338.95 222.71 L340.29 222.16 L341.63 221.62 L342.97 221.09 L344.32 220.56 L345.66 220.05 L347.00 219.54 L348.35 219.04 L349.69 218.55 L351.03 218.06 L352.37 217.59 L353.72 217.12 L355.06 216.66 L356.40 216.21 L357.74 215.77 L359.09 215.34 L360.43 214.92 L361.77 214.51 L363.12 214.10 L364.46 213.71 L365.80 213.33 L367.14 212.95 L368.49 212.59 L369.83 212.23 L371.17 211.89 L372.52 211.55 L373.86 211.23 L375.20 210.91 L376.54 210.61 L377.89 210.31 L379.23 210.03 L380.57 209.75 L381.92 209.49 L383.26 209.24 L384.60 209.00 L385.94 208.77 L387.29 208.55 L388.63 208.34 L389.97 208.14 L391.31 207.95 L392.66 207.78 L394.00 207.61 L395.34 207.46 L396.69 207.31 L398.03 207.18 L399.37 207.06 L400.71 206.95 L402.06 206.85 L403.40 206.76 L404.74 206.69 L406.09 206.62 L407.43 206.57 L408.77 206.53 L410.11 206.50 L411.46 206.48 L412.80 206.47 L414.14 206.47 L415.49 206.49 L416.83 206.52 L418.17 206.55 L419.51 206.60 L420.86 206.66 L422.20 206.73 L423.54 206.82 L424.88 206.91 L426.23 207.01 L427.57 207.13 L428.91 207.26 L430.26 207.40 L431.60 207.55 L432.94 207.71 L434.28 207.88 L435.63 208.06 L436.97 208.26 L438.31 208.46 L439.66 208.68 L441.00 208.90 L442.34 209.14 L443.68 209.39 L445.03 209.65 L446.37 209.92 L447.71 210.20 L449.06 210.49 L450.40 210.79 L451.74 211.10 L453.08 211.42 L454.43 211.75 L455.77 212.09 L457.11 212.44 L458.45 212.80 L459.80 213.17 L461.14 213.55 L462.48 213.94 L463.83 214.34 L465.17 214.75 L466.51 215.17 L467.85 215.60 L469.20 216.04 L470.54 216.48 L470.54 273.17 L471.50 52.20 L471.85 52.56 L472.33 53.05 L472.90 53.64 L473.51 54.28 L474.13 54.95 L474.70 55.60 L475.24 56.25 L475.80 56.92 L476.36 57.61 L476.90 58.33 L477.42 59.06 L477.90 59.80 L478.35 60.57 L478.77 61.36 L479.16 62.16 L479.53 62.98 L479.88 63.79 L480.20 64.60 L480.49 65.39 L480.76 66.18 L480.99 66.97 L481.21 67.76 L481.41 68.57 L481.60 69.40 L481.77 70.23 L481.92 71.05 L482.06 71.89 L482.18 72.76 L482.29 73.69 L482.40 74.70 L482.51 75.90 L482.61 77.29 L482.70 78.73 L482.78 80.10 L482.85 81.27 L482.90 82.10 L482.93 83.25 L482.97 84.63 L483.02 86.36 L483.07 88.59 L483.13 91.42 L483.20 95.00 L483.27 99.50 L483.34 104.84 L483.42 110.81 L483.51 117.14 L483.60 123.62 L483.70 130.00 L483.80 136.15 L483.91 142.22 L484.02 148.44 L484.14 155.00 L484.27 162.12 L484.40 170.00 L484.54 179.07 L484.69 189.25 L484.84 199.99 L485.00 210.73 L485.15 220.91 L485.30 230.00 L485.43 238.03 L485.53 245.46 L485.63 252.34 L485.75 258.72 L485.90 264.66 L486.10 270.20 L486.37 275.28 L486.69 279.83 L487.05 283.93 L487.42 287.67 L487.78 291.14 L488.10 294.40 L488.39 297.41 L488.65 300.09 L488.90 302.48 L489.15 304.65 L489.41 306.64 L489.70 308.50 L490.01 310.29 L490.35 311.96 L490.70 313.46 L491.05 314.71 L491.39 315.65 L491.70 316.20 L491.99 316.27 L492.26 315.90 L492.51 315.21 L492.77 314.33 L493.03 313.38 L493.30 312.50 L493.57 311.68 L493.84 310.82 L494.11 309.89 L494.40 308.88 L494.72 307.76 L495.10 306.50 L495.54 305.08 L496.04 303.50 L496.58 301.82 L497.13 300.06 L497.67 298.28 L498.20 296.50 L498.71 294.69 L499.21 292.81 L499.71 290.89 L500.20 288.99 L500.70 287.15 L501.20 285.40 L501.69 283.78 L502.16 282.26 L502.64 280.79 L503.13 279.33 L503.64 277.85 L504.20 276.30 L504.78 274.66 L505.38 272.97 L506.01 271.25 L506.67 269.53 L507.40 267.84 L508.20 266.20 L509.10 264.58 L510.08 262.94 L511.12 261.33 L512.20 259.79 L513.26 258.37 L514.30 257.10 L515.31 256.00 L516.31 255.04 L517.32 254.19 L518.32 253.43 L519.31 252.74 L520.30 252.10 L521.26 251.51 L522.19 250.98 L523.11 250.52 L524.05 250.13 L525.04 249.83 L526.10 249.60 L527.24 249.47 L528.42 249.42 L529.66 249.46 L530.93 249.56 L532.25 249.71 L533.60 249.90 L534.97 250.13 L536.36 250.41 L537.78 250.74 L539.27 251.13 L540.83 251.58 L542.50 252.10 L544.22 252.66 L545.98 253.25 L547.81 253.91 L549.78 254.66 L551.92 255.55 L554.30 256.60 L557.18 257.97 L560.59 259.68 L564.18 261.51 L567.61 263.28 L570.53 264.80 L572.59 265.86 L573.94 266.55 L575.28 267.23 L576.62 267.92 L577.96 268.59 L579.31 269.27 L580.65 269.94 L581.99 270.61 L583.34 271.27 L584.68 271.92 L586.02 272.58 L587.36 273.22 L588.71 273.87 L590.05 274.50 L591.39 275.13 L592.73 275.76 L594.08 276.38 L595.42 277.00 L596.76 277.60 L598.11 278.21 L599.45 278.80 L600.79 279.39 L602.13 279.97 L603.48 280.55 L604.82 281.12 L606.16 281.68 L607.51 282.23 L608.85 282.78 L610.19 283.32 L611.53 283.85 L612.88 284.38 L614.22 284.89 L615.56 285.40 L616.91 285.90 L618.25 286.39 L619.59 286.88 L620.93 287.35 L622.28 287.82 L623.62 288.28 L624.96 288.73 L626.30 289.17 L627.65 289.60 L628.99 290.02 L630.33 290.43 L631.68 290.84 L633.02 291.23 L634.36 291.61 L635.70 291.99 L637.05 292.35 L638.39 292.71 L639.73 293.05 L641.08 293.39 L642.42 293.71 L643.76 294.03 L645.10 294.33 L646.45 294.63 L647.79 294.91 L649.13 295.19 L650.48 295.45 L651.82 295.70 L653.16 295.94 L654.50 296.17 L655.85 296.39 L657.19 296.60 L658.53 296.80 L659.87 296.99 L661.22 297.16 L662.56 297.33 L663.90 297.48 L665.25 297.63 L666.59 297.76 L667.93 297.88 L669.27 297.99 L670.62 298.09 L671.96 298.18 L673.30 298.25 L674.65 298.32 L675.99 298.37 L677.33 298.41 L678.67 298.44 L680.02 298.46 L681.36 298.47 L682.70 298.47 L684.05 298.45 L685.39 298.42 L686.73 298.39 L688.07 298.34 L689.42 298.28 L690.76 298.21 L692.10 298.12 L693.44 298.03 L694.79 297.93 L696.13 297.81 L697.47 297.68 L698.82 297.54 L700.16 297.39 L701.50 297.23 L702.84 297.06 L704.19 296.88 L705.53 296.68 L706.87 296.48 L708.22 296.26 L709.56 296.04 L710.90 295.80 L712.24 295.55 L713.59 295.29 L714.93 295.02 L716.27 294.74 L717.62 294.45 L718.96 294.15 L720.30 293.84 L721.64 293.52 L722.99 293.19 L724.33 292.85 L725.67 292.50 L727.01 292.14 L728.36 291.77 L729.70 291.39 L731.04 291.00 L732.39 290.60 L733.73 290.19 L735.07 289.77 L736.41 289.34 L737.76 288.90 L739.10 288.46 L740.44 288.00 L741.79 287.54 L743.13 287.07 L744.47 286.59 L745.81 286.10 L747.16 285.60 L748.50 285.10 L749.84 284.58 L751.19 284.06 L752.53 283.53 L753.87 283.00 L755.21 282.45 L756.56 281.90 L757.90 281.34 L759.24 280.78 L760.58 280.20 L761.93 279.62 L763.27 279.04 L764.61 278.44 L765.96 277.85 L767.30 277.24 L768.64 276.63 L769.98 276.01 L771.33 275.39 L772.67 274.76 L774.01 274.12 L775.36 273.48 L776.70 272.84 L778.04 272.19 L779.38 271.53 L780.73 270.87 L782.07 270.21 L783.41 269.54 L784.76 268.86 L786.10 268.19 L787.44 267.51 L788.78 266.82 L790.13 266.13 L791.47 265.44 L792.81 264.75 L794.15 264.05 L795.50 263.35 L796.84 262.65 L798.18 261.94 L799.53 261.23 L800.87 260.52 L802.21 259.81 L803.55 259.09 L804.90 258.38 L806.24 257.66 L807.58 256.94 L808.93 256.22 L810.27 255.50 L811.61 254.78 L812.95 254.06 L814.30 253.34 L815.64 252.61 L816.98 251.89 L818.33 251.17 L819.67 250.45 L821.01 249.73 L822.35 249.01 L823.70 248.29 L825.04 247.57 L826.38 246.85 L827.72 246.13 L829.07 245.42 L830.41 244.70 L831.75 243.99 L833.10 243.28 L834.44 242.58 L835.78 241.87 L837.12 241.17 L838.47 240.47 L839.81 239.78 L841.15 239.08 L842.50 238.39 L843.84 237.71 L845.18 237.02 L846.52 236.35 L847.87 235.67 L849.21 235.00 L850.55 234.33 L851.90 233.67 L853.24 233.02 L854.58 232.36 L855.92 231.72 L857.27 231.07 L858.61 230.44 L859.95 229.81 L861.29 229.18 L862.64 228.56 L863.98 227.94 L865.32 227.34 L866.67 226.73 L868.01 226.14 L869.35 225.55 L870.69 224.97 L872.04 224.39 L873.38 223.82 L874.72 223.26 L876.07 222.71 L877.41 222.16 L878.75 221.62 L880.09 221.09 L881.44 220.56 L882.78 220.05 L884.12 219.54 L885.47 219.04 L886.81 218.55 L888.15 218.06 L889.49 217.59 L890.84 217.12 L892.18 216.66 L893.52 216.21 L894.86 215.77 L896.21 215.34 L897.55 214.92 L898.89 214.51 L900.24 214.10 L901.58 213.71 L902.92 213.33 L904.26 212.95 L905.61 212.59 L906.95 212.23 L908.29 211.89 L909.64 211.55 L910.98 211.23 L912.32 210.91 L913.66 210.61 L915.01 210.31 L916.35 210.03 L917.69 209.75 L919.04 209.49 L920.38 209.24 L921.72 209.00 L923.06 208.77 L924.41 208.55 L925.75 208.34 L927.09 208.14"/>
<rect x="67.3" y="7.0" width="23" height="3.8" fill="#ff0000"/>
<rect x="183.8" y="7.0" width="23.2" height="3.8" fill="#0000ff"/>
<rect x="300.2" y="7.0" width="23.2" height="3.8" fill="#00c000"/>
<g font-size="21" transform="translate(0 17.55) scale(1 1.06) translate(0 -17.55)">
<text x="94.10" y="17.55">m4a</text><text x="134.95" y="17.55" transform="translate(146.528 12.693) scale(1.065 1.000) translate(-145.528 -11.393)">@</text><text x="156.27" y="17.55">vn</text>
<text x="210.50" y="17.55">m4b</text><text x="251.35" y="17.55" transform="translate(262.928 12.693) scale(1.065 1.000) translate(-261.928 -11.393)">@</text><text x="272.67" y="17.55">vn</text>
<text x="326.90" y="17.55">m4c</text><text x="366.57" y="17.55" transform="translate(378.149 12.693) scale(1.065 1.000) translate(-377.149 -11.393)">@</text><text x="387.89" y="17.55">vn</text>
</g>
<text x="535.2" y="463.8" font-size="21" text-anchor="middle" textLength="95.3" lengthAdjust="spacing">Time (ms)</text>
<text transform="translate(20.8 220.9) rotate(-90)" font-size="21" text-anchor="middle" textLength="116.2" lengthAdjust="spacing">Voltage (kV)</text>
</svg>
</body></html>
